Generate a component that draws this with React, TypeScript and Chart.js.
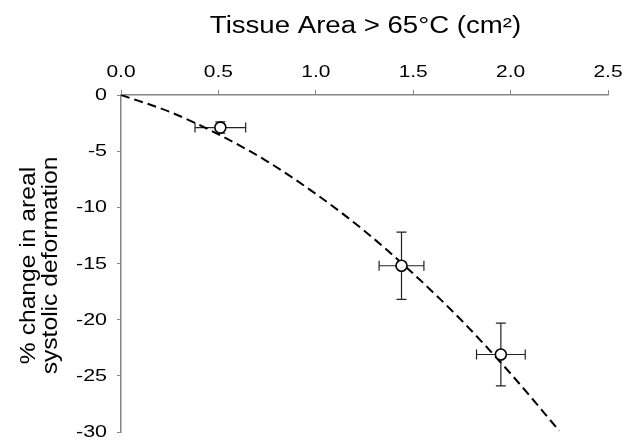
import { useEffect, useRef } from "react";
import { Chart, registerables } from "chart.js";

Chart.register(...registerables);

const pointX = [0.51, 1.44, 1.95];
const pointY = [-2.9, -15.2, -23.1];
const pointXErr = [0.13, 0.115, 0.125];
const pointYErr = [0.5, 3.0, 2.8];

const fitX = [0, 0.25, 0.5, 0.75, 1.0, 1.25, 1.5, 1.75, 2.0, 2.25];
const fitY = [0, -1.5, -3.5, -5.9, -8.8, -12.1, -15.9, -20.1, -24.8, -29.9];

const xTickValues = [0, 0.5, 1.0, 1.5, 2.0, 2.5];
const xTickLabels = ["0.0", "0.5", "1.0", "1.5", "2.0", "2.5"];
const yTickValues = [0, -5, -10, -15, -20, -25, -30];
const yTickLabels = ["0", "-5", "-10", "-15", "-20", "-25", "-30"];

const xTitle = "Tissue Area > 65\u00B0C (cm\u00B2)";
const yTitle = ["% change in areal", "systolic deformation"];

const FONT = "'Liberation Sans', Arial, sans-serif";
const AXIS_COLOR = "#868686";

function stretchedText(
  ctx: CanvasRenderingContext2D,
  text: string,
  x: number,
  y: number,
  size: number,
  sx: number,
  align: CanvasTextAlign,
  rotate: boolean
) {
  ctx.save();
  ctx.translate(x, y);
  if (rotate) ctx.rotate(-Math.PI / 2);
  ctx.scale(sx, 1);
  ctx.font = `${size}px ${FONT}`;
  ctx.fillStyle = "#000";
  ctx.textAlign = align;
  ctx.textBaseline = "middle";
  ctx.fillText(text, 0, 0);
  ctx.restore();
}

const textPlugin = {
  id: "stretchedText",
  afterDraw(chart: any) {
    const ctx = chart.ctx as CanvasRenderingContext2D;
    const xs = chart.scales.x;
    const ys = chart.scales.y;
    const area = chart.chartArea;
    xTickValues.forEach((v, i) => {
      stretchedText(ctx, xTickLabels[i], xs.getPixelForValue(v), 72, 16.5, 1.27, "center", false);
    });
    yTickValues.forEach((v, i) => {
      stretchedText(ctx, yTickLabels[i], 107, ys.getPixelForValue(v) + 0.5, 16.5, 1.3, "right", false);
    });
    stretchedText(ctx, xTitle, (area.left + area.right) / 2 + 1, 27, 23, 1.2, "center", false);
    const cy = (area.top + area.bottom) / 2 + 2;
    stretchedText(ctx, yTitle[0], 29, cy, 22, 1.12, "center", true);
    stretchedText(ctx, yTitle[1], 51, cy, 22, 1.12, "center", true);
  },
};

const errorBarPlugin = {
  id: "errorBars",
  beforeDatasetsDraw(chart: any) {
    const ctx = chart.ctx;
    const xs = chart.scales.x;
    const ys = chart.scales.y;
    const cap = 5;
    ctx.save();
    ctx.strokeStyle = "#222";
    ctx.lineWidth = 1.2;
    for (let i = 0; i < pointX.length; i++) {
      const cx = xs.getPixelForValue(pointX[i]);
      const cy = ys.getPixelForValue(pointY[i]);
      const x1 = xs.getPixelForValue(pointX[i] - pointXErr[i]);
      const x2 = xs.getPixelForValue(pointX[i] + pointXErr[i]);
      const y1 = ys.getPixelForValue(pointY[i] + pointYErr[i]);
      const y2 = ys.getPixelForValue(pointY[i] - pointYErr[i]);
      ctx.beginPath();
      ctx.moveTo(x1, cy);
      ctx.lineTo(x2, cy);
      ctx.moveTo(x1, cy - cap);
      ctx.lineTo(x1, cy + cap);
      ctx.moveTo(x2, cy - cap);
      ctx.lineTo(x2, cy + cap);
      ctx.moveTo(cx, y1);
      ctx.lineTo(cx, y2);
      ctx.moveTo(cx - cap, y1);
      ctx.lineTo(cx + cap, y1);
      ctx.moveTo(cx - cap, y2);
      ctx.lineTo(cx + cap, y2);
      ctx.stroke();
    }
    ctx.restore();
  },
};

export default function App() {
  const ref = useRef<HTMLCanvasElement | null>(null);

  useEffect(() => {
    if (!ref.current) return;
    const chart = new Chart(ref.current, {
      type: "scatter",
      data: {
        datasets: [
          {
            label: "fit",
            data: fitX.map((x, i) => ({ x, y: fitY[i] })),
            showLine: true,
            borderColor: "#000",
            borderWidth: 2,
            borderDash: [9, 5],
            pointRadius: 0,
            cubicInterpolationMode: "monotone",
            order: 2,
          } as any,
          {
            label: "data",
            data: pointX.map((x, i) => ({ x, y: pointY[i] })),
            showLine: false,
            pointRadius: 5.5,
            pointBackgroundColor: "#fff",
            pointBorderColor: "#000",
            pointBorderWidth: 1.6,
            order: 1,
          } as any,
        ],
      },
      options: {
        animation: false,
        responsive: true,
        maintainAspectRatio: false,
        layout: { padding: { left: 0, right: 17, top: 0, bottom: 14 } },
        plugins: {
          legend: { display: false },
          tooltip: { enabled: false },
        },
        scales: {
          x: {
            type: "linear",
            position: "top",
            min: 0,
            max: 2.5,
            afterBuildTicks: (scale: any) => {
              scale.ticks = xTickValues.map((v) => ({ value: v }));
            },
            afterFit: (scale: any) => {
              scale.height = 95;
            },
            ticks: { display: false },
            grid: {
              display: true,
              drawOnChartArea: false,
              drawTicks: true,
              tickLength: 5,
              color: AXIS_COLOR,
            },
            border: { display: true, color: AXIS_COLOR, width: 1.5 },
            title: { display: false },
          },
          y: {
            type: "linear",
            position: "left",
            min: -30,
            max: 0,
            afterBuildTicks: (scale: any) => {
              scale.ticks = yTickValues.map((v) => ({ value: v }));
            },
            afterFit: (scale: any) => {
              scale.width = 121;
            },
            ticks: { display: false },
            grid: {
              display: true,
              drawOnChartArea: false,
              drawTicks: true,
              tickLength: 4,
              color: AXIS_COLOR,
            },
            border: { display: true, color: AXIS_COLOR, width: 1.5 },
            title: { display: false },
          },
        },
      } as any,
      plugins: [errorBarPlugin, textPlugin],
    });
    return () => chart.destroy();
  }, []);

  return (
    <div
      style={{
        position: "fixed",
        left: 0,
        top: 0,
        width: 625,
        height: 446,
        background: "#fff",
      }}
    >
      <canvas ref={ref} />
    </div>
  );
}
